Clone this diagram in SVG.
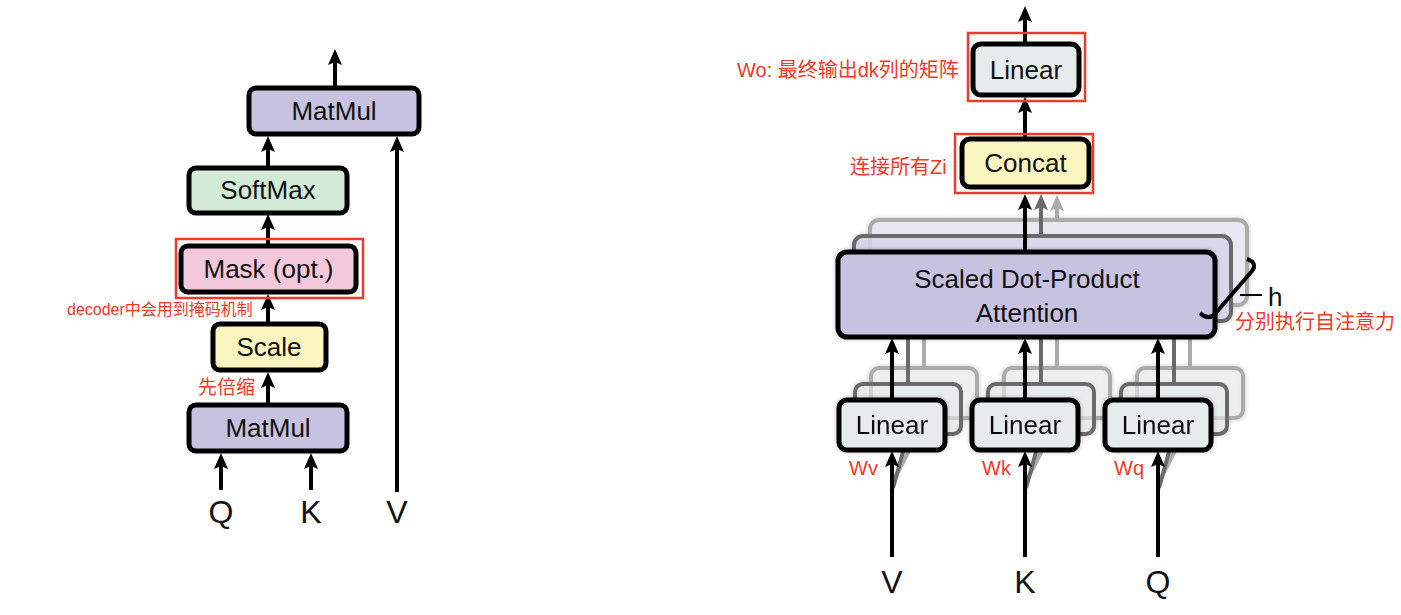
<svg xmlns="http://www.w3.org/2000/svg" width="1401" height="615" viewBox="0 0 1401 615">
<style>
.box{stroke:#000;stroke-width:5}
.lbl{font-family:"Liberation Sans",Arial,sans-serif;font-size:26px;fill:#111;text-anchor:middle}
.io{font-family:"Liberation Sans",Arial,sans-serif;font-size:32px;fill:#111;text-anchor:middle}
.red{font-family:"Liberation Sans","Noto Sans CJK SC",sans-serif;fill:#ee3a26}
.rbox{fill:none;stroke:#ee3a26;stroke-width:2.5}
.lav{fill:#c6c2e0}.grn{fill:#d2ead6}.pnk{fill:#f2c8da}.yel{fill:#fbf5bf}.gry{fill:#e6ecec}
.l2{stroke:#6a6a6a;stroke-width:4}
.l3{stroke:#ababab;stroke-width:4}
.c{stroke:#000;stroke-width:4;fill:none;marker-end:url(#ah)}
.c2{stroke:#6a6a6a;stroke-width:4;fill:none}
.c3{stroke:#ababab;stroke-width:4;fill:none}
</style>
<defs>
<marker id="ah" viewBox="0 0 16 14" refX="12" refY="7" markerWidth="16" markerHeight="14" markerUnits="userSpaceOnUse" orient="auto"><path d="M0,0 L16,7 L0,14 L3,7 z" fill="#000"/></marker>
<marker id="ah2" viewBox="0 0 16 14" refX="12" refY="7" markerWidth="16" markerHeight="14" markerUnits="userSpaceOnUse" orient="auto"><path d="M0,0 L16,7 L0,14 L3,7 z" fill="#6a6a6a"/></marker>
<marker id="ah3" viewBox="0 0 16 14" refX="12" refY="7" markerWidth="16" markerHeight="14" markerUnits="userSpaceOnUse" orient="auto"><path d="M0,0 L16,7 L0,14 L3,7 z" fill="#ababab"/></marker>
<filter id="sh" x="-10%" y="-20%" width="120%" height="140%"><feDropShadow dx="0" dy="0" stdDeviation="2" flood-color="#000" flood-opacity="0.25"/></filter>
</defs>
<rect width="1401" height="615" fill="#fff"/>

<!-- stacked back layers (right diagram) -->
<g id="attn-stack" filter="url(#sh)">
<rect x="870" y="220" width="377" height="85" rx="9" fill="#e9e7f4" fill-opacity="0.85" class="l3"/>
<rect x="854" y="236" width="377" height="85" rx="9" fill="#d6d3ea" fill-opacity="0.8" class="l2"/>
</g>
<g id="linear-stacks" filter="url(#sh)">
<rect x="871" y="368" width="106" height="50" rx="8" fill="#eef1f1" fill-opacity="0.6" class="l3"/>
<rect x="855" y="384" width="106" height="50" rx="8" fill="#e9eded" fill-opacity="0.6" class="l2"/>
<rect x="1004" y="368" width="106" height="50" rx="8" fill="#eef1f1" fill-opacity="0.6" class="l3"/>
<rect x="988" y="384" width="106" height="50" rx="8" fill="#e9eded" fill-opacity="0.6" class="l2"/>
<rect x="1137" y="368" width="106" height="50" rx="8" fill="#eef1f1" fill-opacity="0.6" class="l3"/>
<rect x="1121" y="384" width="106" height="50" rx="8" fill="#e9eded" fill-opacity="0.6" class="l2"/>
</g>

<g id="connectors">
<!-- left -->
<line x1="335" y1="87" x2="335" y2="53" class="c"/>
<line x1="268" y1="167" x2="268" y2="140" class="c"/>
<line x1="268" y1="245" x2="268" y2="218" class="c"/>
<line x1="268" y1="323" x2="268" y2="298" class="c"/>
<line x1="268" y1="404" x2="268" y2="376" class="c"/>
<line x1="221" y1="490" x2="221" y2="457" class="c"/>
<line x1="311" y1="490" x2="311" y2="457" class="c"/>
<line x1="397" y1="492" x2="397" y2="140" class="c"/>
<!-- right top -->
<line x1="1025" y1="43" x2="1025" y2="10" class="c"/>
<line x1="1025" y1="138" x2="1025" y2="101" class="c"/>
<line x1="1057" y1="220" x2="1057" y2="199" class="c3" marker-end="url(#ah3)"/>
<line x1="1041" y1="236" x2="1041" y2="198" class="c2" marker-end="url(#ah2)"/>
<line x1="1025" y1="252" x2="1025" y2="198" class="c"/>
<!-- linear to attention -->
<line x1="924" y1="368" x2="924" y2="336" class="c3"/>
<line x1="908" y1="384" x2="908" y2="336" class="c2"/>
<line x1="1057" y1="368" x2="1057" y2="336" class="c3"/>
<line x1="1041" y1="384" x2="1041" y2="336" class="c2"/>
<line x1="1190" y1="368" x2="1190" y2="336" class="c3"/>
<line x1="1174" y1="384" x2="1174" y2="336" class="c2"/>
<line x1="892" y1="400" x2="892" y2="342" class="c"/>
<line x1="1025" y1="400" x2="1025" y2="342" class="c"/>
<line x1="1158" y1="400" x2="1158" y2="342" class="c"/>
<!-- inputs -->
<line x1="894" y1="480" x2="925" y2="419" class="c3" stroke-width="3"/>
<line x1="893" y1="488" x2="908" y2="434" class="c2" stroke-width="3"/>
<line x1="1027" y1="480" x2="1058" y2="419" class="c3" stroke-width="3"/>
<line x1="1026" y1="488" x2="1041" y2="434" class="c2" stroke-width="3"/>
<line x1="1160" y1="480" x2="1191" y2="419" class="c3" stroke-width="3"/>
<line x1="1159" y1="488" x2="1174" y2="434" class="c2" stroke-width="3"/>
<line x1="892" y1="557" x2="892" y2="455" class="c"/>
<line x1="1025" y1="557" x2="1025" y2="455" class="c"/>
<line x1="1158" y1="557" x2="1158" y2="455" class="c"/>
</g>

<!-- left diagram nodes -->
<g id="matmul-top"><rect x="249" y="88" width="170" height="46" rx="7" class="box lav"/><text x="334" y="120" class="lbl">MatMul</text></g>
<g id="softmax"><rect x="189" y="168" width="158" height="45" rx="7" class="box grn"/><text x="268" y="199" class="lbl">SoftMax</text></g>
<g id="mask"><rect x="181" y="246" width="175" height="46" rx="7" class="box pnk"/><text x="268.5" y="278" class="lbl">Mask (opt.)</text><rect x="176" y="239" width="187" height="59" class="rbox"/></g>
<g id="mask-note"><text x="67" y="315" class="red" font-size="16">decoder中会用到掩码机制</text></g>
<g id="scale"><rect x="213" y="324" width="113" height="46" rx="7" class="box yel"/><text x="269" y="356" class="lbl">Scale</text></g>
<g id="scale-note"><text x="198" y="394" class="red" font-size="19">先倍缩</text></g>
<g id="matmul-bottom"><rect x="189" y="405" width="158" height="46" rx="7" class="box lav"/><text x="268" y="437" class="lbl">MatMul</text></g>
<g id="in-left"><text x="221" y="523" class="io">Q</text><text x="311" y="523" class="io">K</text><text x="397" y="523" class="io">V</text></g>

<!-- right diagram nodes -->
<g id="linear-out"><rect x="973" y="44" width="106" height="51" rx="8" class="box gry"/><text x="1026" y="79" class="lbl">Linear</text><rect x="968" y="33" width="117" height="68" class="rbox"/><text x="737" y="77" class="red" font-size="20">Wo: 最终输出dk列的矩阵</text></g>
<g id="concat"><rect x="962" y="139" width="127" height="48" rx="8" class="box yel"/><text x="1025.5" y="172" class="lbl">Concat</text><rect x="955" y="134" width="138" height="59" class="rbox"/><text x="850" y="174" class="red" font-size="20">连接所有Zi</text></g>
<g id="attention" filter="url(#sh)"><rect x="838" y="252" width="377" height="85" rx="9" class="box lav"/></g>
<g id="attention-text"><text x="1027" y="288" class="lbl">Scaled Dot-Product</text><text x="1027" y="322" class="lbl">Attention</text></g>
<g id="heads">
<path d="M1247,259 Q1258,263 1252,271 L1214,315 Q1207,320 1200,313" fill="none" stroke="#000" stroke-width="4"/>
<line x1="1240" y1="295" x2="1262" y2="295" stroke="#000" stroke-width="2"/>
<text x="1268" y="306" font-family="Liberation Sans,Arial,sans-serif" font-size="26" fill="#111">h</text>
<text x="1235" y="329" class="red" font-size="20">分别执行自注意力</text>
</g>
<g id="linear-v" filter="url(#sh)"><rect x="839" y="400" width="106" height="50" rx="8" class="box gry"/><text x="892" y="434" class="lbl">Linear</text></g>
<g id="linear-k" filter="url(#sh)"><rect x="972" y="400" width="106" height="50" rx="8" class="box gry"/><text x="1025" y="434" class="lbl">Linear</text></g>
<g id="linear-q" filter="url(#sh)"><rect x="1105" y="400" width="106" height="50" rx="8" class="box gry"/><text x="1158" y="434" class="lbl">Linear</text></g>
<g id="weights"><text x="849" y="475" class="red" font-size="20">Wv</text><text x="982" y="475" class="red" font-size="20">Wk</text><text x="1114" y="475" class="red" font-size="20">Wq</text></g>
<g id="in-right"><text x="892" y="593" class="io">V</text><text x="1025" y="593" class="io">K</text><text x="1158" y="593" class="io">Q</text></g>
</svg>
